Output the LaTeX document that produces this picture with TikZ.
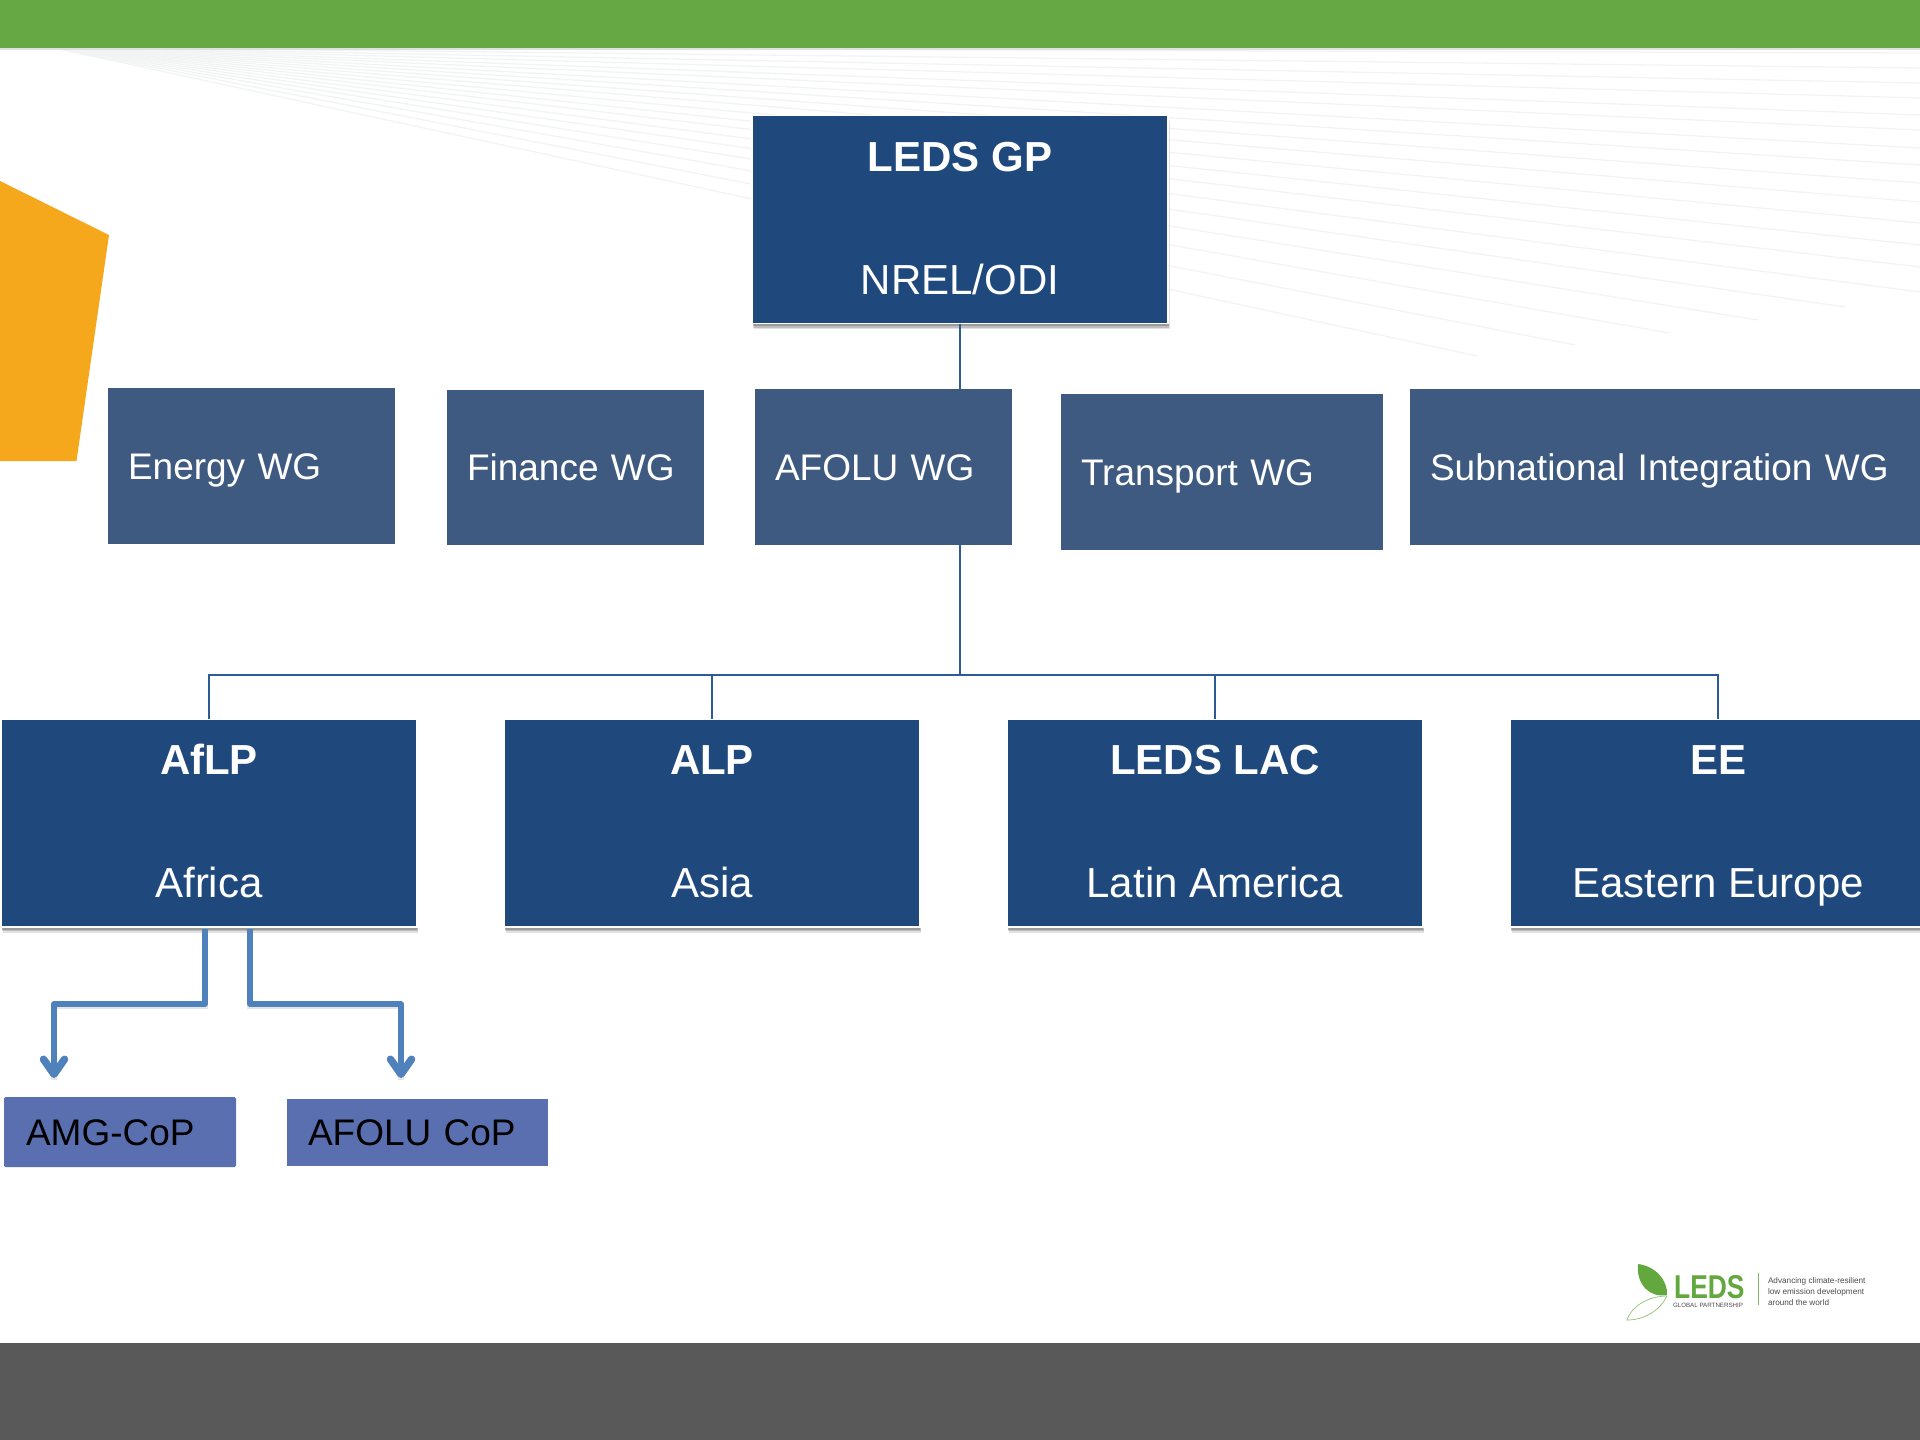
\documentclass[tikz,border=0pt]{standalone}
\usepackage{fontspec}
\setmainfont{Liberation Sans}
\usetikzlibrary{arrows.meta,shadows}
\definecolor{topgreen}{HTML}{65A844}
\definecolor{barorange}{HTML}{F5A81C}
\definecolor{bargray}{HTML}{595959}
\definecolor{darkblue}{HTML}{1F497D}
\definecolor{wgblue}{HTML}{3F5A80}
\definecolor{copblue}{HTML}{5A6FB0}
\definecolor{thinline}{HTML}{2C5C96}
\definecolor{thickline}{HTML}{4F81BD}
\definecolor{ray}{HTML}{F2F4F4}
\definecolor{logogreen}{HTML}{62A83F}
\newcommand\topline[1]{\raisebox{0pt}[30pt][0pt]{\textbf{#1}}}
\newcommand\depthA[1]{\raisebox{0pt}[\height][3.5pt]{#1}}
\newcommand\depthB[1]{\raisebox{0pt}[26.5pt][-1.5pt]{#1}}
\tikzset{
  darkbox/.style={rectangle,fill=darkblue,draw=white,line width=1.5pt,inner sep=0pt,outer sep=0pt,
    text=white,align=center,font=\fontsize{42}{123}\selectfont,
    drop shadow={shadow xshift=.5pt,shadow yshift=-2.5pt,opacity=.18,fill=black},
    drop shadow={shadow xshift=1pt,shadow yshift=-4pt,opacity=.15,fill=black},
    drop shadow={shadow xshift=1.5pt,shadow yshift=-5.5pt,opacity=.12,fill=black}},
  wgbox/.style={rectangle,fill=wgblue,inner xsep=20pt,inner ysep=0pt,outer sep=0pt,
    text=white,align=left,font=\fontsize{37}{44}\selectfont},
  copbox/.style={rectangle,fill=copblue,inner xsep=22pt,inner ysep=0pt,outer sep=0pt,
    text=black,align=left,font=\fontsize{37}{44}\selectfont},
  thin link/.style={draw=thinline,line width=1.6pt},
  thick link/.style={draw=thickline,line width=5.5pt,line join=round,
    -{Straight Barb[length=15pt,width=21pt,line width=7.5pt,round]},
    preaction={-,draw=black,draw opacity=.10,line width=5.5pt,transform canvas={yshift=-2pt}}},
  rayline/.style={draw=ray,line width=1.3pt},
  logotext/.style={inner sep=0pt,outer sep=0pt,text=black!70}
}
\begin{document}
\begin{tikzpicture}[x=1pt,y=-1pt]
\useasboundingbox (0,0) rectangle (1920,1440);
\fill[white] (0,0) rectangle (1920,1440);
% background rays
\foreach \ex/\ey in {1477/356,1575/345,1669/333,1758/320,1845/307,1920/292,1920/267,1920/245,1920/223,1920/202,1920/183,1920/165,1920/148,1920/130,1920/115,1920/98,1920/83,1920/68,1920/53}
  \draw[rayline] (50,47) -- (\ex,\ey);
% bands
\fill[black!12] (0,47) rectangle (1920,49.5);
\fill[topgreen] (0,0) rectangle (1920,48);
\fill[bargray] (0,1343) rectangle (1920,1440);
\fill[barorange] (0,181) -- (109,235) -- (76.5,461) -- (0,461) -- cycle;
% top box
\node[darkbox,minimum width=416pt,minimum height=208pt] (leds) at (960,219.5) {\topline{LEDS GP}\\\depthA{NREL/ODI}};
% working groups
\node[wgbox,text width=247pt,minimum height=156pt] (energy) at (251.5,466) {\depthB{Energy WG}};
\node[wgbox,text width=217pt,minimum height=155pt] (finance) at (575.5,467.5) {\depthB{Finance WG}};
\node[wgbox,text width=217pt,minimum height=156pt] (afolu) at (883.5,467) {\depthB{AFOLU WG}};
\node[wgbox,text width=282pt,minimum height=156pt] (transport) at (1222,472) {\depthB{Transport WG}};
\node[wgbox,text width=475pt,minimum height=156pt] (subnat) at (1667.5,467) {\depthB{Subnational Integration WG}};
% regional platforms
\node[darkbox,minimum width=415.5pt,minimum height=208pt] (aflp) at (209,823) {\topline{AfLP}\\\depthA{Africa}};
\node[darkbox,minimum width=415.5pt,minimum height=208pt] (alp) at (712,823) {\topline{ALP}\\\depthA{Asia}};
\node[darkbox,minimum width=415.5pt,minimum height=208pt] (lac) at (1215,823) {\topline{LEDS LAC}\\\depthA{Latin America}};
\node[darkbox,minimum width=415.5pt,minimum height=208pt] (ee) at (1718,823) {\topline{EE}\\\depthA{Eastern Europe}};
% communities of practice
\node[copbox,rounded corners=1.5pt,text width=188pt,minimum height=70pt] (amg) at (120,1132) {\depthB{AMG-CoP}};
\node[copbox,inner xsep=21pt,text width=218.5pt,minimum height=67pt] (afcop) at (417.25,1132.5) {\depthB{AFOLU CoP}};
% thin connectors
\coordinate (bus) at (960,675);
\draw[thin link] (leds.south) -- (afolu.north -| leds.south);
\draw[thin link] (afolu.south -| leds.south) -- (leds.south |- bus);
\draw[thin link] (aflp.north) -- (aflp.north |- bus) -- (ee.north |- bus) -- (ee.north);
\draw[thin link] (alp.north) -- (alp.north |- bus);
\draw[thin link] (lac.north) -- (lac.north |- bus);
% thick arrows
\coordinate (s1) at (205,929);
\coordinate (s2) at (250,929);
\coordinate (e1) at (54,1078);
\coordinate (e2) at (401,1078);
\draw[thick link] (s1) -- (205,1004) -- (54,1004) -- (e1);
\draw[thick link] (s2) -- (250,1004) -- (401,1004) -- (e2);
% logo
\fill[logogreen] (1638,1264) .. controls (1655,1266) and (1668,1280) .. (1667,1295) .. controls (1650,1298) and (1636,1285) .. cycle;
\draw[logogreen!70,line width=.7pt] (1667,1296) .. controls (1650,1296) and (1632,1305) .. (1627,1320) .. controls (1645,1320) and (1660,1310) .. cycle;
\node[anchor=base west,inner sep=0pt,text=logogreen,font=\bfseries\fontsize{33}{33}\selectfont,xscale=.8] (logoname) at (1674,1298.5) {LEDS};
\node[logotext,anchor=base west,font=\fontsize{6.2}{7}\selectfont] (logosub) at (1673,1307) {GLOBAL PARTNERSHIP};
\draw[logogreen!80,line width=1pt] (1758,1273) -- (1758,1305);
\node[logotext,anchor=base west,font=\fontsize{8.2}{11}\selectfont] (logotag1) at (1768,1283) {Advancing climate-resilient};
\node[logotext,anchor=base west,font=\fontsize{8.2}{11}\selectfont] (logotag2) at (1768,1294) {low emission development};
\node[logotext,anchor=base west,font=\fontsize{8.2}{11}\selectfont] (logotag3) at (1768,1305) {around the world};
\end{tikzpicture}
\end{document}
